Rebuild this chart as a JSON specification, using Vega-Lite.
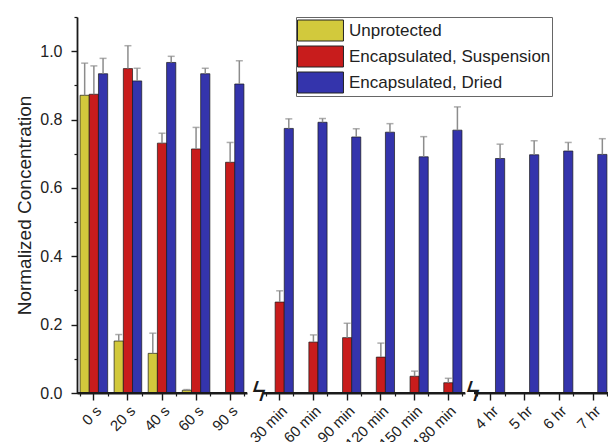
{
  "$schema": "https://vega.github.io/schema/vega-lite/v6.json",
  "autosize": {"type": "pad"},
  "padding": {"left": 15, "top": 16, "right": 0, "bottom": 0},
  "bounds": "flush",
  "spacing": 16,
  "config": {
    "view": {"stroke": null},
    "font": "Liberation Sans",
    "axis": {"domain": true, "domainColor": "#1a1a1a", "tickColor": "#1a1a1a", "labelColor": "#222", "titleColor": "#222", "domainWidth": 1.8, "tickWidth": 1.4, "grid": false}
  },
  "data": {"values": [
    {"time": "0 s", "section": "s", "series": "Unprotected", "value": 0.871, "upper": 0.965},
    {"time": "0 s", "section": "s", "series": "Encapsulated, Suspension", "value": 0.874, "upper": 0.957},
    {"time": "0 s", "section": "s", "series": "Encapsulated, Dried", "value": 0.934, "upper": 0.979},
    {"time": "20 s", "section": "s", "series": "Unprotected", "value": 0.152, "upper": 0.171},
    {"time": "20 s", "section": "s", "series": "Encapsulated, Suspension", "value": 0.949, "upper": 1.016},
    {"time": "20 s", "section": "s", "series": "Encapsulated, Dried", "value": 0.913, "upper": 0.950},
    {"time": "40 s", "section": "s", "series": "Unprotected", "value": 0.116, "upper": 0.175},
    {"time": "40 s", "section": "s", "series": "Encapsulated, Suspension", "value": 0.731, "upper": 0.760},
    {"time": "40 s", "section": "s", "series": "Encapsulated, Dried", "value": 0.967, "upper": 0.985},
    {"time": "60 s", "section": "s", "series": "Unprotected", "value": 0.008, "upper": 0.010},
    {"time": "60 s", "section": "s", "series": "Encapsulated, Suspension", "value": 0.714, "upper": 0.777},
    {"time": "60 s", "section": "s", "series": "Encapsulated, Dried", "value": 0.934, "upper": 0.950},
    {"time": "90 s", "section": "s", "series": "Encapsulated, Suspension", "value": 0.675, "upper": 0.733},
    {"time": "90 s", "section": "s", "series": "Encapsulated, Dried", "value": 0.904, "upper": 0.972},
    {"time": "30 min", "section": "min", "series": "Encapsulated, Suspension", "value": 0.266, "upper": 0.299},
    {"time": "30 min", "section": "min", "series": "Encapsulated, Dried", "value": 0.774, "upper": 0.802},
    {"time": "60 min", "section": "min", "series": "Encapsulated, Suspension", "value": 0.149, "upper": 0.170},
    {"time": "60 min", "section": "min", "series": "Encapsulated, Dried", "value": 0.792, "upper": 0.803},
    {"time": "90 min", "section": "min", "series": "Encapsulated, Suspension", "value": 0.162, "upper": 0.204},
    {"time": "90 min", "section": "min", "series": "Encapsulated, Dried", "value": 0.749, "upper": 0.773},
    {"time": "120 min", "section": "min", "series": "Encapsulated, Suspension", "value": 0.105, "upper": 0.146},
    {"time": "120 min", "section": "min", "series": "Encapsulated, Dried", "value": 0.763, "upper": 0.788},
    {"time": "150 min", "section": "min", "series": "Encapsulated, Suspension", "value": 0.049, "upper": 0.064},
    {"time": "150 min", "section": "min", "series": "Encapsulated, Dried", "value": 0.691, "upper": 0.750},
    {"time": "180 min", "section": "min", "series": "Encapsulated, Suspension", "value": 0.030, "upper": 0.043},
    {"time": "180 min", "section": "min", "series": "Encapsulated, Dried", "value": 0.769, "upper": 0.837},
    {"time": "4 hr", "section": "hr", "series": "Encapsulated, Dried", "value": 0.686, "upper": 0.728},
    {"time": "5 hr", "section": "hr", "series": "Encapsulated, Dried", "value": 0.697, "upper": 0.738},
    {"time": "6 hr", "section": "hr", "series": "Encapsulated, Dried", "value": 0.708, "upper": 0.733},
    {"time": "7 hr", "section": "hr", "series": "Encapsulated, Dried", "value": 0.698, "upper": 0.744}
  ]},
  "resolve": {"scale": {"x": "independent", "xOffset": "independent", "y": "shared", "color": "shared"}, "axis": {"x": "independent"}},
  "hconcat": [
    {
      "width": 170, "height": 376,
      "transform": [{"filter": "datum.section === 's'"}],
      "resolve": {"axis": {"x": "independent", "y": "independent"}},
      "layer": [
        {
          "mark": {"type": "bar", "stroke": "#1a1a1a", "strokeWidth": 0.7},
          "encoding": {
            "x": {"field": "time", "type": "nominal", "scale": {"domain": ["0 s", "20 s", "40 s", "60 s", "90 s"], "paddingInner": 0.19, "paddingOuter": 0.09}, "axis": {"title": null, "domain": true, "domainColor": "#1a1a1a", "domainWidth": 1.8, "tickColor": "#1a1a1a", "tickWidth": 1.4, "labelAngle": -45, "labelFontSize": 15, "tickSize": 7, "labelPadding": 3}},
            "xOffset": {"field": "series", "scale": {"domain": ["Unprotected", "Encapsulated, Suspension", "Encapsulated, Dried"]}},
            "y": {"field": "value", "type": "quantitative", "scale": {"domain": [0, 1.1], "nice": false}, "axis": {"title": "Normalized Concentration", "domainColor": "#1a1a1a", "domainWidth": 1.8, "tickColor": "#1a1a1a", "tickWidth": 1.4, "titleFontSize": 19, "titleFontWeight": "normal", "titlePadding": 5, "values": [0, 0.2, 0.4, 0.6, 0.8, 1.0], "format": ".1f", "labelFontSize": 16, "tickSize": 6, "labelPadding": 9}},
            "color": {"field": "series", "type": "nominal", "scale": {"domain": ["Unprotected", "Encapsulated, Suspension", "Encapsulated, Dried"], "range": ["#d2c93c", "#c81c1c", "#3434ac"]}, "legend": {"title": null, "orient": "none", "legendX": 219, "legendY": 0, "strokeColor": "#666", "padding": 1, "labelFontSize": 17, "labelColor": "#222", "labelLimit": 0, "symbolType": "M-1,-0.875H2.83V0.875H-1Z", "symbolSize": 576, "symbolStrokeColor": "#222", "symbolStrokeWidth": 1, "symbolOpacity": 1, "rowPadding": 1, "labelOffset": 27}}
          }
        },
        {
          "mark": {"type": "rule", "color": "#8c8c8c", "strokeWidth": 1.5},
          "encoding": {
            "x": {"field": "time", "type": "nominal", "axis": {"orient": "bottom", "tickBand": "extent", "labels": false, "domain": false, "tickColor": "#1a1a1a", "tickWidth": 1.2, "tickSize": 3, "title": null}},
            "xOffset": {"field": "series"},
            "y": {"field": "value", "type": "quantitative", "axis": {"orient": "left", "values": [0.1, 0.3, 0.5, 0.7, 0.9, 1.1], "labels": false, "domain": false, "tickColor": "#1a1a1a", "tickWidth": 1.2, "tickSize": 3, "title": null}},
            "y2": {"field": "upper"}
          }
        },
        {
          "mark": {"type": "tick", "color": "#8c8c8c", "thickness": 1.5, "size": 7, "orient": "horizontal"},
          "encoding": {
            "x": {"field": "time", "type": "nominal", "axis": null},
            "xOffset": {"field": "series"},
            "y": {"field": "upper", "type": "quantitative", "axis": null}
          }
        },
        {
          "mark": {"type": "rule", "color": "#1a1a1a", "strokeWidth": 1.8},
          "encoding": {"y": {"datum": 0, "type": "quantitative", "axis": null}}
        }
      ]
    },
    {
      "spacing": 9,
      "bounds": "flush",
      "resolve": {"scale": {"x": "independent", "xOffset": "independent", "y": "shared", "color": "shared"}, "axis": {"x": "independent"}},
      "hconcat": [
        {
          "width": 202, "height": 376,
          "transform": [{"filter": "datum.section === 'min'"}],
          "resolve": {"axis": {"x": "independent"}},
          "layer": [
            {
              "mark": {"type": "bar", "stroke": "#1a1a1a", "strokeWidth": 0.7},
              "encoding": {
                "x": {"field": "time", "type": "nominal", "scale": {"domain": ["30 min", "60 min", "90 min", "120 min", "150 min", "180 min"], "paddingInner": 0.19, "paddingOuter": 0.09}, "axis": {"title": null, "domain": true, "domainColor": "#1a1a1a", "domainWidth": 1.8, "tickColor": "#1a1a1a", "tickWidth": 1.4, "labelAngle": -45, "labelFontSize": 15, "tickSize": 7, "labelPadding": 3}},
                "xOffset": {"field": "series", "scale": {"domain": ["Unprotected", "Encapsulated, Suspension", "Encapsulated, Dried"]}},
                "y": {"field": "value", "type": "quantitative", "scale": {"domain": [0, 1.1], "nice": false}, "axis": null},
                "color": {"field": "series", "type": "nominal", "scale": {"domain": ["Unprotected", "Encapsulated, Suspension", "Encapsulated, Dried"], "range": ["#d2c93c", "#c81c1c", "#3434ac"]}, "legend": {"title": null, "orient": "none", "legendX": 219, "legendY": 0, "strokeColor": "#666", "padding": 1, "labelFontSize": 17, "labelColor": "#222", "labelLimit": 0, "symbolType": "M-1,-0.875H2.83V0.875H-1Z", "symbolSize": 576, "symbolStrokeColor": "#222", "symbolStrokeWidth": 1, "symbolOpacity": 1, "rowPadding": 1, "labelOffset": 27}}
              }
            },
            {
              "mark": {"type": "rule", "color": "#8c8c8c", "strokeWidth": 1.5},
              "encoding": {
                "x": {"field": "time", "type": "nominal", "axis": {"orient": "bottom", "tickBand": "extent", "labels": false, "domain": false, "tickColor": "#1a1a1a", "tickWidth": 1.2, "tickSize": 3, "title": null}},
                "xOffset": {"field": "series"},
                "y": {"field": "value", "type": "quantitative", "axis": null},
                "y2": {"field": "upper"}
              }
            },
            {
              "mark": {"type": "tick", "color": "#8c8c8c", "thickness": 1.5, "size": 7, "orient": "horizontal"},
              "encoding": {
                "x": {"field": "time", "type": "nominal", "axis": null},
                "xOffset": {"field": "series"},
                "y": {"field": "upper", "type": "quantitative", "axis": null}
              }
            },
            {
              "mark": {"type": "rule", "color": "#1a1a1a", "strokeWidth": 1.8},
              "encoding": {"y": {"datum": 0, "type": "quantitative", "axis": null}}
            },
            {
              "transform": [{"filter": "datum.time === '30 min' && datum.series === 'Encapsulated, Dried'"}],
              "mark": {"type": "text", "text": "ϟ", "font": "DejaVu Sans", "fontSize": 26, "color": "#1a1a1a", "dx": -7, "baseline": "middle"},
              "encoding": {
                "x": {"field": "time", "type": "nominal", "bandPosition": 0, "axis": null},
                "y": {"datum": 0, "type": "quantitative", "axis": null}
              }
            }
          ]
        },
        {
          "width": 136, "height": 376,
          "transform": [{"filter": "datum.section === 'hr'"}],
          "resolve": {"axis": {"x": "independent"}},
          "layer": [
            {
              "mark": {"type": "bar", "stroke": "#1a1a1a", "strokeWidth": 0.7},
              "encoding": {
                "x": {"field": "time", "type": "nominal", "scale": {"domain": ["4 hr", "5 hr", "6 hr", "7 hr"], "paddingInner": 0.19, "paddingOuter": 0.09}, "axis": {"title": null, "domain": true, "domainColor": "#1a1a1a", "domainWidth": 1.8, "tickColor": "#1a1a1a", "tickWidth": 1.4, "labelAngle": -45, "labelFontSize": 15, "tickSize": 7, "labelPadding": 3}},
                "xOffset": {"field": "series", "scale": {"domain": ["Unprotected", "Encapsulated, Suspension", "Encapsulated, Dried"]}},
                "y": {"field": "value", "type": "quantitative", "scale": {"domain": [0, 1.1], "nice": false}, "axis": null},
                "color": {"field": "series", "type": "nominal", "scale": {"domain": ["Unprotected", "Encapsulated, Suspension", "Encapsulated, Dried"], "range": ["#d2c93c", "#c81c1c", "#3434ac"]}, "legend": {"title": null, "orient": "none", "legendX": 219, "legendY": 0, "strokeColor": "#666", "padding": 1, "labelFontSize": 17, "labelColor": "#222", "labelLimit": 0, "symbolType": "M-1,-0.875H2.83V0.875H-1Z", "symbolSize": 576, "symbolStrokeColor": "#222", "symbolStrokeWidth": 1, "symbolOpacity": 1, "rowPadding": 1, "labelOffset": 27}}
              }
            },
            {
              "mark": {"type": "rule", "color": "#8c8c8c", "strokeWidth": 1.5},
              "encoding": {
                "x": {"field": "time", "type": "nominal", "axis": {"orient": "bottom", "tickBand": "extent", "labels": false, "domain": false, "tickColor": "#1a1a1a", "tickWidth": 1.2, "tickSize": 3, "title": null}},
                "xOffset": {"field": "series"},
                "y": {"field": "value", "type": "quantitative", "axis": null},
                "y2": {"field": "upper"}
              }
            },
            {
              "mark": {"type": "tick", "color": "#8c8c8c", "thickness": 1.5, "size": 7, "orient": "horizontal"},
              "encoding": {
                "x": {"field": "time", "type": "nominal", "axis": null},
                "xOffset": {"field": "series"},
                "y": {"field": "upper", "type": "quantitative", "axis": null}
              }
            },
            {
              "mark": {"type": "rule", "color": "#1a1a1a", "strokeWidth": 1.8},
              "encoding": {"y": {"datum": 0, "type": "quantitative", "axis": null}}
            },
            {
              "transform": [{"filter": "datum.time === '4 hr'"}],
              "mark": {"type": "text", "text": "ϟ", "font": "DejaVu Sans", "fontSize": 26, "color": "#1a1a1a", "dx": -4, "baseline": "middle"},
              "encoding": {
                "x": {"field": "time", "type": "nominal", "bandPosition": 0, "axis": null},
                "y": {"datum": 0, "type": "quantitative", "axis": null}
              }
            }
          ]
        }
      ]
    }
  ]
}
